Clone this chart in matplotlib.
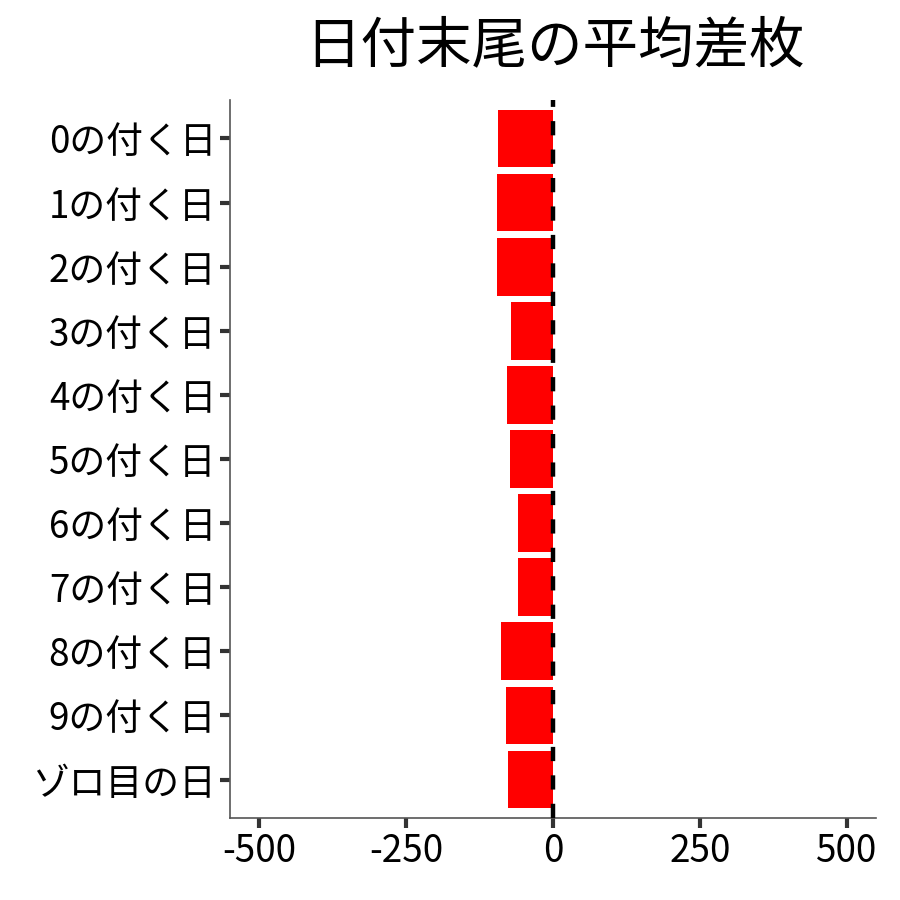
import matplotlib
matplotlib.use("Agg")
import matplotlib.pyplot as plt

plt.rcParams['font.family'] = ['Noto Sans CJK JP', 'DejaVu Sans']

# categories (top to bottom) and mean difference values
labels = ['0の付く日', '1の付く日', '2の付く日', '3の付く日', '4の付く日', '5の付く日',
          '6の付く日', '7の付く日', '8の付く日', '9の付く日', 'ゾロ目の日']
values = [-93, -95, -96, -72, -79, -74, -60, -59, -89, -80, -76]
xticks = [-500, -250, 0, 250, 500]
xticklabels = ['-500', '-250', '0', '250', '500']

fig = plt.figure(figsize=(9, 9), dpi=100)
ax = fig.add_axes([0.2556, 0.0911, 0.7177, 0.7978])

ypos = list(range(len(labels), 0, -1))
ax.barh(ypos, values, height=0.9, color='#ff0000', zorder=2)
ax.axvline(0, color='black', linestyle=(0, (3.2, 3.2)), linewidth=3.2, zorder=3)

ax.set_xlim(-550, 550)
ax.set_ylim(0.4, len(labels) + 0.6)
ax.set_xticks(xticks)
ax.set_xticklabels(xticklabels)
ax.set_yticks(ypos)
ax.set_yticklabels(labels)

for s in ['top', 'right']:
    ax.spines[s].set_visible(False)
for s in ['left', 'bottom']:
    ax.spines[s].set_color('#555555')
    ax.spines[s].set_linewidth(1.2)

ax.tick_params(axis='both', colors='#333333', labelcolor='black', length=7, width=3, labelsize=26.5, pad=3)

fig.suptitle('日付末尾の平均差枚', x=0.617, y=0.98, fontsize=40, va='top')

fig.savefig('out.png', dpi=100)
